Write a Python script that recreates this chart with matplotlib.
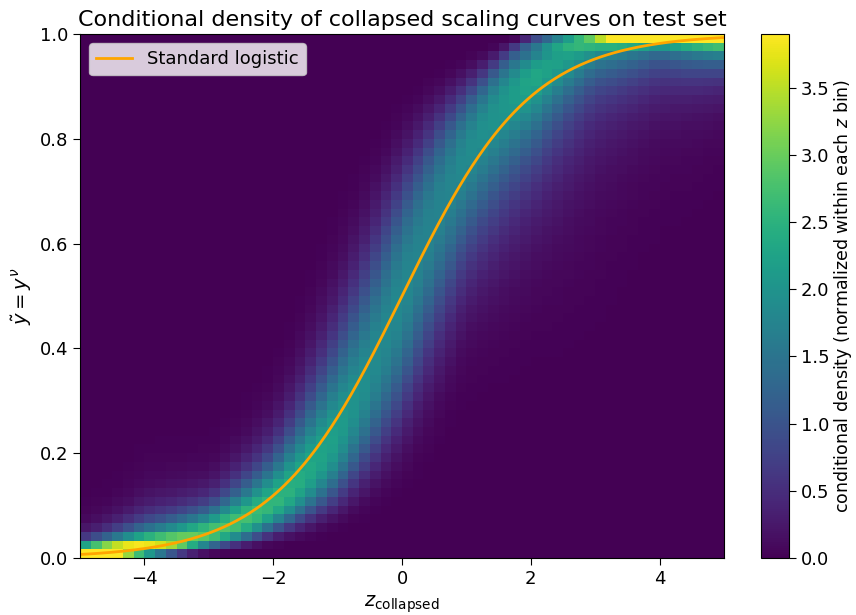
import math
import numpy as np
import matplotlib
matplotlib.use("Agg")
import matplotlib.pyplot as plt

# histogram grid (60 x 60 bins)
z_edges = np.linspace(-5, 5, 61)
y_edges = np.linspace(0, 1, 61)

# band shape at integer z (logit space)
z_knots = [-5, -4, -3, -2, -1, 0, 1, 2, 3, 4, 5]
gain = [0.137, 0.2, 0.2, 0.33, 0.57, 0.67, 0.53, 0.5, 0.28, 0.26, 0.43]
band_shift = [0.6, 0.6, 0.25, 0.05, 0.0, 0.0, 0.0, -0.2, -0.5, -1.2, -1.9]
band_width = [0.8, 0.8, 0.55, 0.5, 0.55, 0.58, 0.6, 0.8, 1.1, 1.0, 0.9]
pile_share = [0.0, 0.0, 0.0, 0.0, 0.0, 0.0, 0.0, 0.05, 0.15, 0.5, 0.65]
pile_shift = [0.0, 0.0, 0.0, 0.0, 0.0, 0.0, 0.0, 2.0, 1.5, 0.8, 0.0]
pile_width = 0.5

vmax = 3.9

phi = np.vectorize(lambda x: 0.5 * (1.0 + math.erf(x / math.sqrt(2.0))))


def logistic(z):
    return 1.0 / (1.0 + np.exp(-z))


with np.errstate(divide="ignore"):
    y_logit = np.log(y_edges / (1 - y_edges))

dens = np.zeros((60, 60))
for i in range(60):
    for z in np.linspace(z_edges[i], z_edges[i + 1], 5)[1:-1]:
        g = np.interp(z, z_knots, gain)
        p = np.interp(z, z_knots, pile_share)
        cb_ = phi((y_logit - z - np.interp(z, z_knots, band_shift)) / np.interp(z, z_knots, band_width))
        cp_ = phi((y_logit - z - np.interp(z, z_knots, pile_shift)) / pile_width)
        cdf = (1 - p) * cb_ + p * cp_
        dens[:, i] += g * 60 * np.diff(cdf) / 3

fig = plt.figure(figsize=(8.56, 6.15), dpi=100)
ax = fig.add_axes([0.0935, 0.0927, 0.7523, 0.852])
cax = fig.add_axes([0.889, 0.0927, 0.0327, 0.852])

mesh = ax.pcolormesh(z_edges, y_edges, dens, cmap="viridis", vmin=0, vmax=vmax, shading="flat")

zz = np.linspace(-5, 5, 400)
ax.plot(zz, logistic(zz), color="orange", lw=2, label="Standard logistic")

ax.set_xlim(-5, 5)
ax.set_ylim(0, 1)
ax.set_xlabel(r"$z_{\mathrm{collapsed}}$", fontsize=14)
ax.set_ylabel(r"$\tilde{y} = y^{\nu}$", fontsize=14)
ax.set_title("Conditional density of collapsed scaling curves on test set", fontsize=16)
ax.tick_params(labelsize=13, length=5)
ax.legend(loc="upper left", fontsize=13)

cb = fig.colorbar(mesh, cax=cax)
cb.set_label(r"conditional density (normalized within each $z$ bin)", fontsize=12.5, labelpad=2)
cb.ax.tick_params(labelsize=13, length=5)

fig.savefig("out.png", dpi=100)
